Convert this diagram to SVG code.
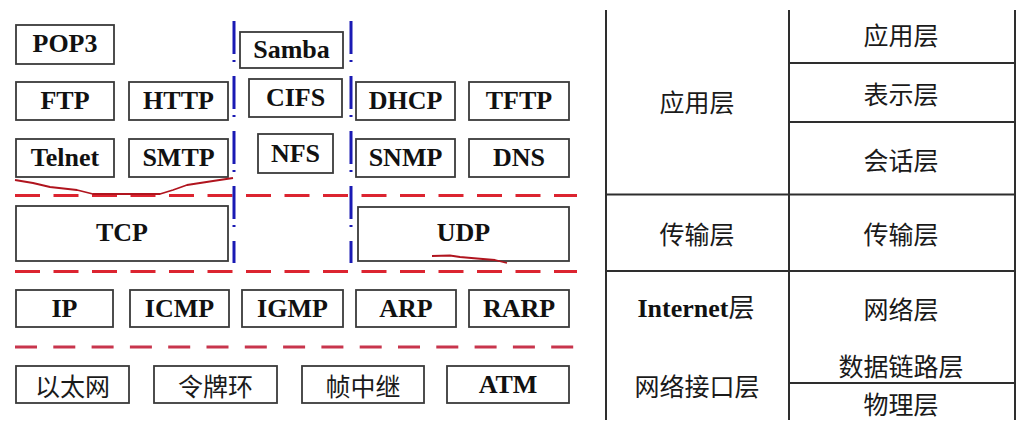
<svg xmlns="http://www.w3.org/2000/svg" width="1031" height="426" viewBox="0 0 1031 426">
<style>
.box{fill:#fff;stroke:#3a3a3a;stroke-width:1.8}
.t{font-family:"Liberation Serif","Times New Roman",serif;font-weight:bold;font-size:26px;fill:#111;text-anchor:middle}
.c{font-family:"Noto Sans CJK SC","Noto Sans",sans-serif;font-size:25px;fill:#1a1a1a;text-anchor:middle;dominant-baseline:central}
.red{fill:none;stroke:#dc2430;stroke-width:3;stroke-dasharray:25 13.5}
.red2{fill:none;stroke:#c8354c;stroke-width:3;stroke-dasharray:22 16.3}
.blue{fill:none;stroke:#1a1ab4;stroke-width:3;stroke-dasharray:33 6 2 14}
.scrib{fill:none;stroke:#b0141e;stroke-width:1.8;stroke-linejoin:round}
.tl{stroke:#2e2e2e;stroke-width:2;fill:none}
</style>
<rect width="1031" height="426" fill="#fff"/>

<g id="separators">
<path class="red" d="M15 195.5H577"/>
<path class="red" d="M15 271.5H577"/>
<path class="red2" d="M15 347H577"/>
<path class="blue" d="M234 21V263"/>
<path class="blue" d="M351 21V263"/>
</g>

<g id="n-pop3"><rect class="box" x="16" y="25" width="98" height="39"/><text class="t" x="65" y="52">POP3</text></g>
<g id="n-samba"><rect class="box" x="240" y="32" width="103" height="36"/><text class="t" x="291.5" y="58">Samba</text></g>
<g id="n-ftp"><rect class="box" x="16" y="82" width="98" height="38"/><text class="t" x="65" y="108.5">FTP</text></g>
<g id="n-http"><rect class="box" x="129" y="82" width="99" height="38"/><text class="t" x="178.5" y="108.5">HTTP</text></g>
<g id="n-cifs"><rect class="box" x="249" y="79" width="93" height="38"/><text class="t" x="295.5" y="106">CIFS</text></g>
<g id="n-dhcp"><rect class="box" x="356" y="82" width="99" height="38"/><text class="t" x="405.5" y="108.5">DHCP</text></g>
<g id="n-tftp"><rect class="box" x="469" y="82" width="100" height="38"/><text class="t" x="519" y="108.5">TFTP</text></g>
<g id="n-telnet"><rect class="box" x="16" y="139" width="98" height="38"/><text class="t" x="65" y="165.5">Telnet</text></g>
<g id="n-smtp"><rect class="box" x="129" y="139" width="99" height="38"/><text class="t" x="178.5" y="165.5">SMTP</text></g>
<g id="n-nfs"><rect class="box" x="258" y="134" width="75" height="39"/><text class="t" x="295.5" y="162">NFS</text></g>
<g id="n-snmp"><rect class="box" x="356" y="139" width="99" height="38"/><text class="t" x="405.5" y="165.5">SNMP</text></g>
<g id="n-dns"><rect class="box" x="469" y="139" width="100" height="38"/><text class="t" x="519" y="165.5">DNS</text></g>

<g id="n-tcp"><rect class="box" x="16" y="206" width="212" height="55"/><text class="t" x="122" y="240.5">TCP</text></g>
<g id="n-udp"><rect class="box" x="358" y="207" width="211" height="54"/><text class="t" x="463.5" y="241">UDP</text></g>

<g id="n-ip"><rect class="box" x="16" y="290" width="97" height="37"/><text class="t" x="64.5" y="317">IP</text></g>
<g id="n-icmp"><rect class="box" x="130" y="290" width="99" height="37"/><text class="t" x="179.5" y="317">ICMP</text></g>
<g id="n-igmp"><rect class="box" x="242" y="290" width="101" height="37"/><text class="t" x="292.5" y="317">IGMP</text></g>
<g id="n-arp"><rect class="box" x="356" y="290" width="100" height="37"/><text class="t" x="406" y="317">ARP</text></g>
<g id="n-rarp"><rect class="box" x="469" y="290" width="100" height="37"/><text class="t" x="519" y="317">RARP</text></g>

<g id="n-ethernet"><rect class="box" x="16" y="366" width="113" height="37"/><text class="c" x="72.5" y="384.5">以太网</text></g>
<g id="n-tokenring"><rect class="box" x="154" y="366" width="123" height="37"/><text class="c" x="215.5" y="384.5">令牌环</text></g>
<g id="n-framerelay"><rect class="box" x="302" y="366" width="122" height="37"/><text class="c" x="363" y="384.5">帧中继</text></g>
<g id="n-atm"><rect class="box" x="447" y="366" width="122" height="37"/><text class="t" x="508" y="393">ATM</text></g>

<g id="annotations">
<path class="scrib" d="M15 180L33 183L50 187L77 190L93 194L160 194L173 190L187 185L213 181L233 178"/>
<path class="scrib" d="M432 256L450 255.5L460 257L477 258.5L495 260L507 263"/>
</g>

<g id="table">
<path class="tl" d="M606 10V420M789 10V420M1015 10V420"/>
<path class="tl" d="M789 63H1015M789 122H1015M606 194.5H1015M606 271H1015M789 383H1015"/>
<text class="c" x="901" y="34" font-size="26">应用层</text>
<text class="c" x="901" y="93" font-size="26">表示层</text>
<text class="c" x="901" y="159" font-size="26">会话层</text>
<text class="c" x="697" y="101" font-size="26">应用层</text>
<text class="c" x="697" y="233" font-size="26">传输层</text>
<text class="c" x="901" y="233" font-size="26">传输层</text>
<text x="696" y="317" text-anchor="middle" fill="#111"><tspan font-family="Liberation Serif, Times New Roman, serif" font-weight="bold" font-size="26">Internet</tspan><tspan font-family="Noto Sans CJK SC, sans-serif" font-size="26" fill="#1a1a1a" dy="0">层</tspan></text>
<text class="c" x="901" y="308" font-size="26">网络层</text>
<text class="c" x="901" y="365" font-size="26">数据链路层</text>
<text class="c" x="901" y="403" font-size="26">物理层</text>
<text class="c" x="697" y="385" font-size="26">网络接口层</text>
</g>
</svg>
